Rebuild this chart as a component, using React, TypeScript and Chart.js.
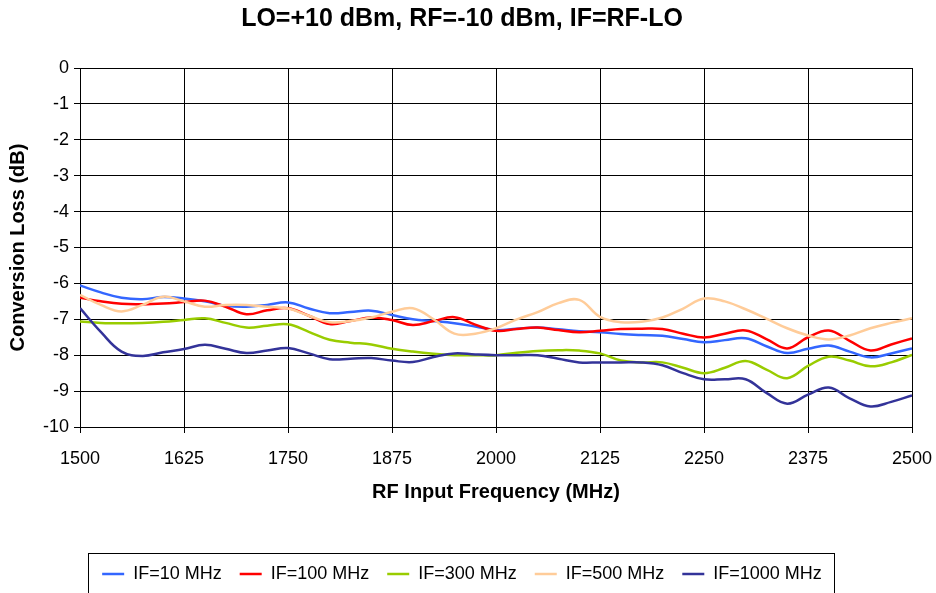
import React, { useEffect, useRef } from "react";
import { Chart, registerables } from "chart.js";

Chart.register(...registerables);

const freqs = [
  1500, 1525, 1550, 1575, 1600, 1625, 1650, 1675, 1700, 1725, 1750, 1775, 1800, 1825,
  1850, 1875, 1900, 1925, 1950, 1975, 2000, 2025, 2050, 2075, 2100, 2125, 2150, 2175,
  2200, 2225, 2250, 2275, 2300, 2325, 2350, 2375, 2400, 2425, 2450, 2475, 2500,
];

const if10 = [
  -6.06, -6.25, -6.4, -6.44, -6.38, -6.42, -6.5, -6.62, -6.65, -6.6, -6.53, -6.7, -6.83, -6.8,
  -6.76, -6.88, -7.0, -7.05, -7.11, -7.2, -7.3, -7.26, -7.23, -7.28, -7.33, -7.36, -7.41, -7.44,
  -7.46, -7.55, -7.64, -7.58, -7.53, -7.75, -7.94, -7.82, -7.73, -7.9, -8.06, -7.95, -7.81,
];

const if100 = [
  -6.4, -6.5, -6.57, -6.58, -6.56, -6.52, -6.48, -6.65, -6.86, -6.75, -6.69, -6.9, -7.13, -7.05,
  -6.95, -7.02, -7.16, -7.05, -6.94, -7.15, -7.32, -7.27, -7.23, -7.3, -7.36, -7.32, -7.27, -7.26,
  -7.27, -7.4, -7.51, -7.4, -7.31, -7.55, -7.81, -7.5, -7.31, -7.6, -7.87, -7.7, -7.53,
];

const if300 = [
  -7.06, -7.1, -7.11, -7.1, -7.07, -7.02, -6.97, -7.1, -7.23, -7.18, -7.14, -7.35, -7.57, -7.65,
  -7.7, -7.82, -7.9, -7.96, -8.0, -8.0, -8.0, -7.93, -7.88, -7.86, -7.87, -7.95, -8.15, -8.2,
  -8.2, -8.35, -8.5, -8.35, -8.16, -8.4, -8.64, -8.3, -8.04, -8.15, -8.31, -8.2, -7.99,
];

const if500 = [
  -6.32, -6.6, -6.78, -6.6, -6.37, -6.5, -6.65, -6.6, -6.6, -6.65, -6.7, -6.9, -7.08, -7.05,
  -6.95, -6.79, -6.69, -7.0, -7.4, -7.4, -7.25, -7.0, -6.8, -6.55, -6.46, -6.93, -7.08, -7.07,
  -6.95, -6.7, -6.42, -6.5, -6.72, -6.98, -7.25, -7.45, -7.56, -7.45, -7.25, -7.1, -6.97,
];

const if1000 = [
  -6.69, -7.35, -7.9, -8.02, -7.92, -7.83, -7.71, -7.82, -7.94, -7.87, -7.8, -7.95, -8.11, -8.1,
  -8.08, -8.15, -8.19, -8.05, -7.95, -7.98, -8.0, -8.0, -8.0, -8.1, -8.2, -8.2, -8.2, -8.2,
  -8.28, -8.5, -8.67, -8.67, -8.67, -9.05, -9.35, -9.1, -8.9, -9.2, -9.43, -9.3, -9.12,
];

const seriesLabels = ["IF=10 MHz", "IF=100 MHz", "IF=300 MHz", "IF=500 MHz", "IF=1000 MHz"];
const seriesColors = ["#3366FF", "#FF0000", "#99CC00", "#FFCC99", "#333399"];
const seriesValues = [if10, if100, if300, if500, if1000];

const titleText = "LO=+10 dBm, RF=-10 dBm, IF=RF-LO";
const xTitle = "RF Input Frequency (MHz)";
const yTitle = "Conversion Loss (dB)";

const legendBorder = {
  id: "legendBorder",
  afterDraw(chart: any) {
    const lg = chart.legend;
    if (!lg || !lg.legendHitBoxes || !lg.legendHitBoxes.length) return;
    const boxes = lg.legendHitBoxes;
    let l = Infinity, r = -Infinity, t = Infinity, b = -Infinity;
    for (const hb of boxes) {
      l = Math.min(l, hb.left);
      r = Math.max(r, hb.left + hb.width);
      t = Math.min(t, hb.top);
      b = Math.max(b, hb.top + hb.height);
    }
    const ctx = chart.ctx;
    ctx.save();
    ctx.strokeStyle = "#000";
    ctx.lineWidth = 1;
    ctx.strokeRect(Math.round(l - 14) + 0.5, Math.round(t - 12) + 0.5, Math.round(r - l + 26), Math.round(b - t + 24));
    ctx.restore();
  },
};

export default function App() {
  const ref = useRef<HTMLCanvasElement | null>(null);

  useEffect(() => {
    if (!ref.current) return;
    Chart.defaults.font.family = "'Liberation Sans', Arial, sans-serif";
    Chart.defaults.color = "#000";
    const datasets = seriesValues.map((vals, i) => ({
      label: seriesLabels[i],
      data: freqs.map((f, j) => ({ x: f, y: vals[j] })),
      borderColor: seriesColors[i],
      backgroundColor: seriesColors[i],
      borderWidth: 2.5,
      pointRadius: 0,
      pointHoverRadius: 0,
      pointStyle: "line" as const,
      tension: 0.4,
      fill: false,
      order: seriesValues.length - 1 - i,
    }));
    const chart = new Chart(ref.current, {
      type: "line",
      data: { datasets },
      plugins: [legendBorder],
      options: {
        animation: false,
        responsive: false,
        devicePixelRatio: 1,
        layout: { padding: { left: 12, right: 24, top: 0, bottom: 0 } },
        plugins: {
          title: {
            display: true,
            text: titleText,
            font: { size: 25, weight: "bold" },
            color: "#000",
            padding: { top: 4, bottom: 34 },
          },
          legend: {
            display: true,
            position: "bottom",
            reverse: true,
            labels: {
              usePointStyle: true,
              pointStyleWidth: 22,
              font: { size: 18 },
              color: "#000",
              padding: 18,
            },
          },
          tooltip: { enabled: false },
        },
        scales: {
          x: {
            type: "linear",
            min: 1500,
            max: 2500,
            ticks: {
              stepSize: 125,
              font: { size: 18 },
              color: "#000",
              padding: 15,
              maxRotation: 0,
              callback: (v: any) => String(v),
            },
            grid: { color: "#000", lineWidth: 1, tickLength: 6 },
            border: { color: "#000", width: 1 },
            title: {
              display: true,
              text: xTitle,
              font: { size: 20, weight: "bold" },
              color: "#000",
              padding: { top: 0, bottom: 43 },
            },
            afterFit: (s: any) => {
              s.height = 120;
              s.paddingLeft = 0;
              s.paddingRight = 0;
            },
          },
          y: {
            type: "linear",
            min: -10,
            max: 0,
            ticks: {
              stepSize: 1,
              font: { size: 18 },
              color: "#000",
              padding: 5,
              callback: (v: any) => String(v),
            },
            grid: { color: "#000", lineWidth: 1, tickLength: 6 },
            border: { color: "#000", width: 1 },
            title: {
              display: true,
              text: yTitle,
              font: { size: 20, weight: "bold" },
              color: "#000",
              padding: { top: -6, bottom: 0 },
            },
            afterFit: (s: any) => {
              s.width = 68;
            },
          },
        },
      },
    });
    return () => chart.destroy();
  }, []);

  return (
    <div style={{ position: "fixed", left: 0, top: 0, width: 936, height: 593, background: "#fff" }}>
      <canvas ref={ref} width={936} height={593} style={{ display: "block" }} />
    </div>
  );
}
